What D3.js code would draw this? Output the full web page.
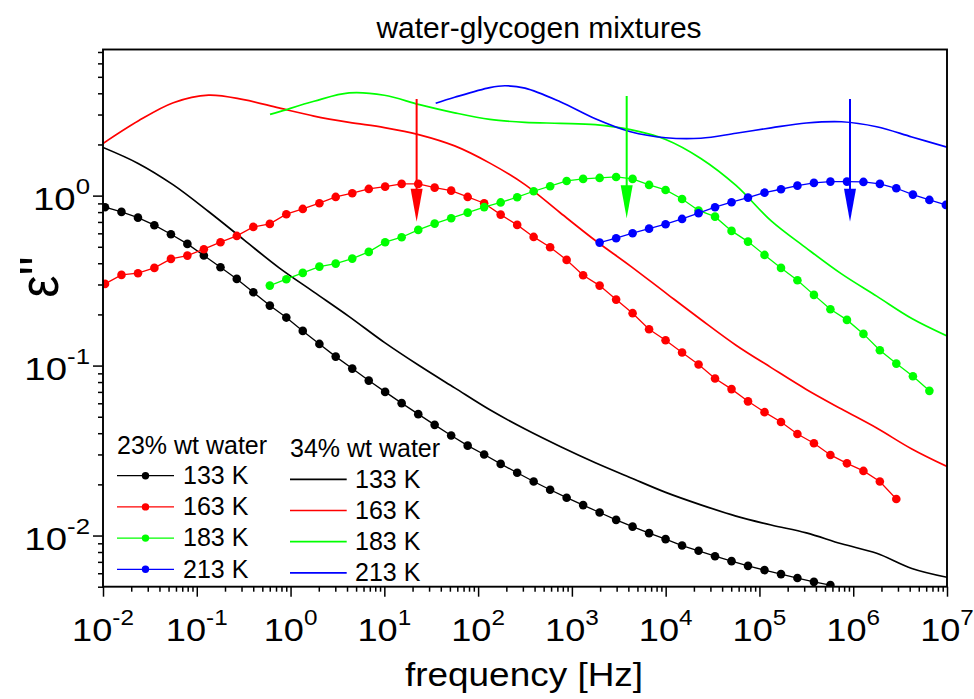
<!DOCTYPE html>
<html>
<head>
<meta charset="utf-8">
<script src="https://cdn.jsdelivr.net/npm/d3@7"></script>
<style>
  html, body { margin: 0; padding: 0; background: #ffffff; }
  svg { display: block; font-family: "Liberation Sans", Arial, Helvetica, sans-serif; }
</style>
</head>
<body>
<svg id="chart" width="974" height="699"></svg>
<script>
// ---- measured frequency grid of the 23 wt% spectra (Hz) ----
const freqGrid = [
  0.0105, 0.01574, 0.0236, 0.0353, 0.0530, 0.0794, 0.119, 0.179, 0.267, 0.401,
  0.601, 0.901, 1.35, 2.03, 3.03, 4.55, 6.82, 10.2, 15.3, 23.0,
  34.4, 51.6, 77.4, 116, 174, 261, 391, 586, 879, 1318,
  1976, 2963, 4440, 6653, 9977, 14960, 22430, 33600, 50400, 75500,
  113200, 169800, 254000, 381000, 571000, 857000, 1285000, 1923000, 2880000, 4330000,
  6490000, 9720000
];

// ---- 23% wt water: dielectric loss, first grid index of each series ----
const start23 = [0, 0, 10, 30];
const eps23_133 = [
  0.855, 0.802, 0.742, 0.670, 0.593, 0.520, 0.444, 0.379, 0.3236, 0.270,
  0.2254, 0.1916, 0.160, 0.1341, 0.1129, 0.0960, 0.0816, 0.0700, 0.0601, 0.0518,
  0.0448, 0.0388, 0.0338, 0.0300, 0.0264, 0.0234, 0.0208, 0.0186, 0.0167, 0.0151,
  0.01366, 0.01237, 0.01128, 0.01033, 0.00953, 0.00873, 0.00813, 0.00756, 0.00707, 0.00663,
  0.00626, 0.00593, 0.00562, 0.00534, 0.00511
];
const eps23_163 = [
  0.3024, 0.3416, 0.3496, 0.3756, 0.4243, 0.4437, 0.4840, 0.5320, 0.5793, 0.6545,
  0.6816, 0.7774, 0.8351, 0.9022, 0.9826, 1.033, 1.095, 1.129, 1.172, 1.172,
  1.114, 1.070, 0.9826, 0.9022, 0.7732, 0.6725, 0.5715, 0.4972, 0.4186, 0.3402,
  0.2955, 0.2445, 0.2034, 0.1637, 0.1410, 0.1193, 0.1014, 0.0839, 0.0727, 0.0616,
  0.0532, 0.0466, 0.0396, 0.0349, 0.0298, 0.0266, 0.0240, 0.0208, 0.0164
];
const eps23_183 = [
  0.2955, 0.3223, 0.3510, 0.3823, 0.3981, 0.4261, 0.4665, 0.5320, 0.5691, 0.6285,
  0.6844, 0.7362, 0.7943, 0.8557, 0.9120, 0.9786, 1.061, 1.136, 1.220, 1.254,
  1.271, 1.288, 1.254, 1.156, 1.080, 0.956, 0.818, 0.752, 0.620, 0.5363,
  0.4478, 0.3756, 0.3178, 0.2606, 0.2147, 0.1857, 0.1536, 0.1232, 0.1027, 0.0866,
  0.0710
];
const eps23_213 = [
  0.5291, 0.5615, 0.6009, 0.6394, 0.6787, 0.7293, 0.7880, 0.8547, 0.9145, 0.9733,
  1.041, 1.090, 1.145, 1.188, 1.209, 1.209, 1.204, 1.172, 1.105, 1.014,
  0.9434, 0.8816
];

// ---- 34% wt water: smooth spectra ----
const freq34 = [
  0.01, 0.0237, 0.0562, 0.1334, 0.3162, 0.750, 1.778, 4.217, 10, 23.71,
  56.23, 133.4, 316.2, 749.9, 1778, 4217, 10000, 23710, 56230, 133400,
  316200, 749900, 1778000, 4217000, 10000000
];
const eps34_133 = [
  1.921, 1.547, 1.156, 0.806, 0.551, 0.3772, 0.2706, 0.1942, 0.1369, 0.0997,
  0.0739, 0.0549, 0.0423, 0.0334, 0.0268, 0.0219, 0.01795, 0.01516, 0.01302, 0.01153,
  0.01037, 0.00894, 0.00786, 0.00640, 0.00568
];
const eps34_163 = [
  2.028, 2.747, 3.520, 3.901, 3.670, 3.281, 2.939, 2.699, 2.515, 2.279,
  1.961, 1.553, 1.161, 0.793, 0.5444, 0.3849, 0.2677, 0.1867, 0.1318, 0.0973,
  0.0724, 0.0555, 0.0429, 0.0323, 0.02546
];
const freq34_183 = [
  0.604, 0.750, 1.778, 4.217, 10, 23.71, 56.23, 133.4, 316.2, 749.9,
  1778, 4217, 10000, 23710, 56230, 133400, 316200, 749900, 1778000, 4217000,
  10000000
];
const eps34_183 = [
  3.004, 3.108, 3.592, 4.019, 3.895, 3.430, 3.070, 2.807, 2.699, 2.663,
  2.616, 2.445, 2.141, 1.655, 1.148, 0.7099, 0.4911, 0.3463, 0.2563, 0.1893,
  0.1495
];
const freq34_213 = [
  35.3, 56.23, 133.4, 193.5, 316.2, 749.9, 1778, 4217, 10000, 23710,
  56230, 133400, 316200, 749900, 1778000, 4217000, 10000000
];
const eps34_213 = [
  3.496, 3.792, 4.324, 4.431, 4.289, 3.567, 2.834, 2.376, 2.191, 2.176,
  2.328, 2.505, 2.674, 2.721, 2.543, 2.214, 1.926
];

// ---- loss-peak markers (frequency, arrow top, arrow tip) ----
const peakFreq = [22.1, 3840, 924000];
const peakTop  = [3.70, 3.86, 3.70];
const peakTip  = [0.703, 0.736, 0.703];

// ---- labels ----
const temps = ["133 K", "163 K", "183 K", "213 K"];
const colors = ["#000000", "#ff0000", "#00ff00", "#0000ff"];
const xTickExp = [-2, -1, 0, 1, 2, 3, 4, 5, 6, 7];
const yTickExp = [-2, -1, 0];
const legendTitles = ["23% wt water", "34% wt water"];

// ---- layout ----
const svg = d3.select("#chart");
const plot = { left: 103, right: 947, top: 49.5, bottom: 586.7 };

const x = d3.scaleLog().domain([0.01, 1e7]).range([plot.left, plot.right]);
const y = d3.scaleLog().domain([0.005, 7.24]).range([plot.bottom, plot.top]);

svg.append("defs").append("clipPath").attr("id", "plotClip")
  .append("rect")
  .attr("x", plot.left).attr("y", plot.top)
  .attr("width", plot.right - plot.left).attr("height", plot.bottom - plot.top);

// stretched text helper
function stretchedText(parent, px, py, sx, rotate) {
  const g = parent.append("g")
    .attr("transform", `translate(${px},${py}) scale(${sx},1)` + (rotate ? ` rotate(${rotate})` : ""));
  return g.append("text");
}

// ---- ticks ----
const minorX = [];
for (let e = -2; e < 7; e++) for (let m = 2; m <= 9; m++) minorX.push(m * Math.pow(10, e));
const minorY = [];
for (let e = -3; e < 1; e++) for (let m = 1; m <= 9; m++) {
  const v = m * Math.pow(10, e);
  if (v >= 0.005 && v <= 7.24 && m !== 1) minorY.push(v);
}
const majorX = xTickExp.map(e => Math.pow(10, e));
const majorY = yTickExp.map(e => Math.pow(10, e));

function tickAxis(axis, transform) {
  const g = svg.append("g").attr("transform", transform).call(axis);
  g.select(".domain").remove();
  g.selectAll(".tick line").attr("stroke", "#000").attr("stroke-width", 1.5);
  g.selectAll(".tick text").remove();
  return g;
}
tickAxis(d3.axisBottom(x).tickValues(majorX).tickSize(10).tickSizeOuter(0), `translate(0,${plot.bottom})`);
tickAxis(d3.axisBottom(x).tickValues(minorX).tickSize(5).tickSizeOuter(0), `translate(0,${plot.bottom})`);
tickAxis(d3.axisLeft(y).tickValues(majorY).tickSize(10).tickSizeOuter(0), `translate(${plot.left},0)`);
tickAxis(d3.axisLeft(y).tickValues(minorY).tickSize(5).tickSizeOuter(0), `translate(${plot.left},0)`);

// tick labels as powers of ten
const tickFont = 32, supFont = 21.5, supRise = 16, tickStretch = 1.13;
xTickExp.forEach(e => {
  const t = stretchedText(svg, x(Math.pow(10, e)), 641, tickStretch)
    .attr("text-anchor", "middle").attr("font-size", tickFont).attr("fill", "#000");
  t.append("tspan").text("10");
  t.append("tspan").attr("dy", -supRise).attr("font-size", supFont).text(String(e));
});
yTickExp.forEach(e => {
  const t = stretchedText(svg, 90, y(Math.pow(10, e)) + 14.7, 1.2)
    .attr("text-anchor", "end").attr("font-size", tickFont).attr("fill", "#000");
  t.append("tspan").text("10");
  t.append("tspan").attr("dy", -supRise).attr("font-size", supFont).text(String(e));
});

// ---- data ----
const data = svg.append("g").attr("clip-path", "url(#plotClip)");

const smooth = d3.line().x(d => x(d[0])).y(d => y(d[1])).curve(d3.curveCatmullRom.alpha(0.5));
const straight = d3.line().x(d => x(d[0])).y(d => y(d[1]));

const solidSeries = [
  { f: freq34, e: eps34_133 },
  { f: freq34, e: eps34_163 },
  { f: freq34_183, e: eps34_183 },
  { f: freq34_213, e: eps34_213 }
];
solidSeries.forEach((s, i) => {
  const pts = s.f.map((f, j) => [f, s.e[j]]);
  data.append("path").attr("d", smooth(pts))
    .attr("fill", "none").attr("stroke", colors[i]).attr("stroke-width", 1.7);
});

const dotSeries = [eps23_133, eps23_163, eps23_183, eps23_213];
dotSeries.forEach((eps, i) => {
  const pts = eps.map((v, j) => [freqGrid[start23[i] + j], v]);
  data.append("path").attr("d", straight(pts))
    .attr("fill", "none").attr("stroke", colors[i]).attr("stroke-width", 1.3);
  data.selectAll(null).data(pts).enter().append("circle")
    .attr("cx", d => x(d[0])).attr("cy", d => y(d[1])).attr("r", 4.3)
    .attr("fill", colors[i]);
});

// peak arrows
peakFreq.forEach((f, i) => {
  const c = colors[i + 1];
  const px = x(f), yTop = y(peakTop[i]), yTip = y(peakTip[i]);
  const headLen = 33, headHalf = 6;
  data.append("line").attr("x1", px).attr("x2", px)
    .attr("y1", yTop).attr("y2", yTip - headLen + 2)
    .attr("stroke", c).attr("stroke-width", 2);
  data.append("path")
    .attr("d", `M${px - headHalf},${yTip - headLen} L${px + headHalf},${yTip - headLen} L${px},${yTip} Z`)
    .attr("fill", c);
});

// ---- frame ----
svg.append("rect")
  .attr("x", plot.left).attr("y", plot.top)
  .attr("width", plot.right - plot.left).attr("height", plot.bottom - plot.top)
  .attr("fill", "none").attr("stroke", "#000").attr("stroke-width", 1.9);

// ---- titles ----
svg.append("text").attr("x", 539).attr("y", 38).attr("text-anchor", "middle")
  .attr("font-size", 30).attr("fill", "#000").text("water-glycogen mixtures");

stretchedText(svg, 524, 686, 1.12).attr("text-anchor", "middle")
  .attr("font-size", 33).attr("fill", "#000").text("frequency [Hz]");

stretchedText(svg, 58, 277, 1.1, -90).attr("text-anchor", "middle")
  .attr("font-size", 50).attr("fill", "#000").text("\u03b5''");

// ---- legend ----
const legend = svg.append("g");
const legFont = 25;
const col = [
  { title: [117, 453.5], line: [117, 174], lineY0: 475.7, textX: 183, textY0: 484 },
  { title: [290, 456.7], line: [290, 346.7], lineY0: 479.3, textX: 355, textY0: 487.7 }
];
const rowGap = 31.2;
col.forEach((c, k) => {
  legend.append("text").attr("x", c.title[0]).attr("y", c.title[1])
    .attr("font-size", legFont).attr("fill", "#000").text(legendTitles[k]);
  temps.forEach((t, i) => {
    const ly = c.lineY0 + i * rowGap;
    legend.append("line").attr("x1", c.line[0]).attr("x2", c.line[1])
      .attr("y1", ly).attr("y2", ly)
      .attr("stroke", colors[i]).attr("stroke-width", k === 0 ? 1.3 : 1.7);
    if (k === 0) {
      legend.append("circle").attr("cx", (c.line[0] + c.line[1]) / 2).attr("cy", ly)
        .attr("r", 3.7).attr("fill", colors[i]);
    }
    legend.append("text").attr("x", c.textX).attr("y", c.textY0 + i * rowGap)
      .attr("font-size", legFont).attr("fill", "#000").text(t);
  });
});
</script>
</body>
</html>
